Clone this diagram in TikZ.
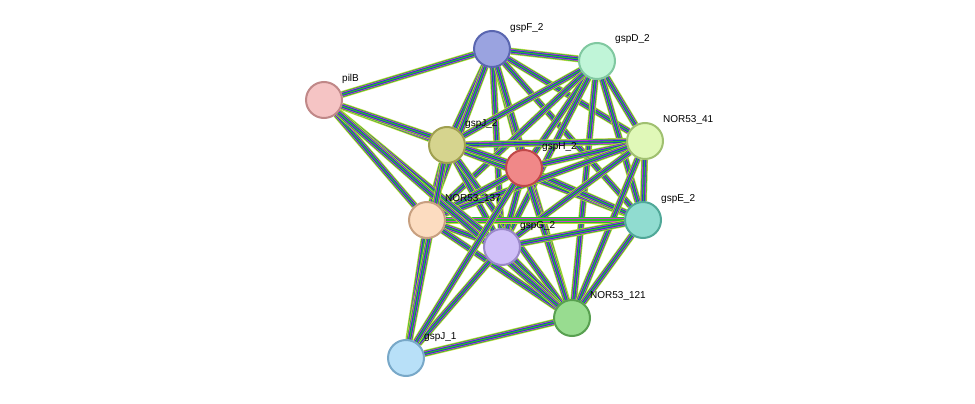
\documentclass[tikz,border=0pt]{standalone}
\usepackage{fontspec}
\setmainfont{Liberation Sans}
\usetikzlibrary{backgrounds}
\tikzset{
  prot/.style={circle,draw,line width=2pt,minimum size=36pt,inner sep=0pt},
  lbl/.style={font=\fontsize{10pt}{11pt}\selectfont,inner sep=1pt,anchor=south west},
  e1/.style={line width=7pt,color={rgb,255:red,200;green,216;blue,70}},
  e2/.style={line width=5.6pt,color={rgb,255:red,40;green,190;blue,40}},
  e3/.style={line width=4.2pt,color={rgb,255:red,210;green,60;blue,210}},
  e4/.style={line width=2.8pt,color={rgb,255:red,40;green,50;blue,210}},
  e5/.style={line width=1.2pt,color={rgb,255:red,40;green,190;blue,40}}
}
\newcommand\bundle[2]{%
  \draw[e1] (#1)--(#2); \draw[e2] (#1)--(#2);
  \draw[e3] (#1)--(#2); \draw[e4] (#1)--(#2); \draw[e5] (#1)--(#2);}
\begin{document}
\begin{tikzpicture}[x=1pt,y=-1pt]
\useasboundingbox (0,0) rectangle (975,404);
% proteins
\node[prot,draw={rgb,255:red,90;green,102;blue,176},fill={rgb,255:red,154;green,163;blue,224}] (gspF2) at (492,49) {};
\node[prot,draw={rgb,255:red,128;green,200;blue,160},fill={rgb,255:red,192;green,245;blue,216}] (gspD2) at (597,61) {};
\node[prot,draw={rgb,255:red,192;green,136;blue,136},fill={rgb,255:red,245;green,196;blue,196}] (pilB) at (324,100) {};
\node[prot,draw={rgb,255:red,160;green,160;blue,80},fill={rgb,255:red,214;green,212;blue,142}] (gspJ2) at (447,145) {};
\node[prot,draw={rgb,255:red,192;green,72;blue,72},fill={rgb,255:red,240;green,136;blue,136}] (gspH2) at (524,168) {};
\node[prot,draw={rgb,255:red,160;green,192;blue,112},fill={rgb,255:red,224;green,248;blue,184}] (nor41) at (645,141) {};
\node[prot,draw={rgb,255:red,200;green,160;blue,128},fill={rgb,255:red,252;green,220;blue,192}] (nor137) at (427,220) {};
\node[prot,draw={rgb,255:red,154;green,136;blue,200},fill={rgb,255:red,208;green,192;blue,248}] (gspG2) at (502,247) {};
\node[prot,draw={rgb,255:red,80;green,168;blue,152},fill={rgb,255:red,144;green,220;blue,208}] (gspE2) at (643,220) {};
\node[prot,draw={rgb,255:red,88;green,160;blue,80},fill={rgb,255:red,152;green,220;blue,144}] (nor121) at (572,318) {};
\node[prot,draw={rgb,255:red,120;green,168;blue,200},fill={rgb,255:red,184;green,224;blue,248}] (gspJ1) at (406,358) {};
% labels
\node[lbl] (lF) at (509,34) {gspF\_2};
\node[lbl] (lD) at (614,45) {gspD\_2};
\node[lbl] (lP) at (341,85) {pilB};
\node[lbl] (lJ2) at (464,130) {gspJ\_2};
\node[lbl] (lH) at (541,153) {gspH\_2};
\node[lbl] (l41) at (662,126) {NOR53\_41};
\node[lbl] (l137) at (444,205) {NOR53\_137};
\node[lbl] (lG) at (519,232) {gspG\_2};
\node[lbl] (lE) at (660,205) {gspE\_2};
\node[lbl] (l121) at (589,302) {NOR53\_121};
\node[lbl] (lJ1) at (423,343) {gspJ\_1};
% interactions
\begin{scope}[on background layer]
\foreach \a/\b in {gspF2/gspD2,gspF2/gspJ2,gspF2/gspH2,gspF2/nor41,gspF2/nor137,gspF2/gspG2,gspF2/gspE2,gspF2/nor121,
  gspD2/gspJ2,gspD2/gspH2,gspD2/nor41,gspD2/nor137,gspD2/gspG2,gspD2/gspE2,gspD2/nor121,
  gspJ2/gspH2,gspJ2/nor41,gspJ2/nor137,gspJ2/gspG2,gspJ2/gspE2,gspJ2/nor121,
  gspH2/nor41,gspH2/nor137,gspH2/gspG2,gspH2/gspE2,gspH2/nor121,
  nor41/nor137,nor41/gspG2,nor41/gspE2,nor41/nor121,
  nor137/gspG2,nor137/gspE2,nor137/nor121,
  gspG2/gspE2,gspG2/nor121,gspE2/nor121,
  pilB/gspF2,pilB/gspJ2,pilB/gspH2,pilB/nor137,pilB/gspG2,pilB/nor121,
  gspJ1/nor137,gspJ1/gspJ2,gspJ1/gspG2,gspJ1/nor121,gspJ1/gspH2}
  {\bundle{\a}{\b}}
\end{scope}
\end{tikzpicture}
\end{document}
